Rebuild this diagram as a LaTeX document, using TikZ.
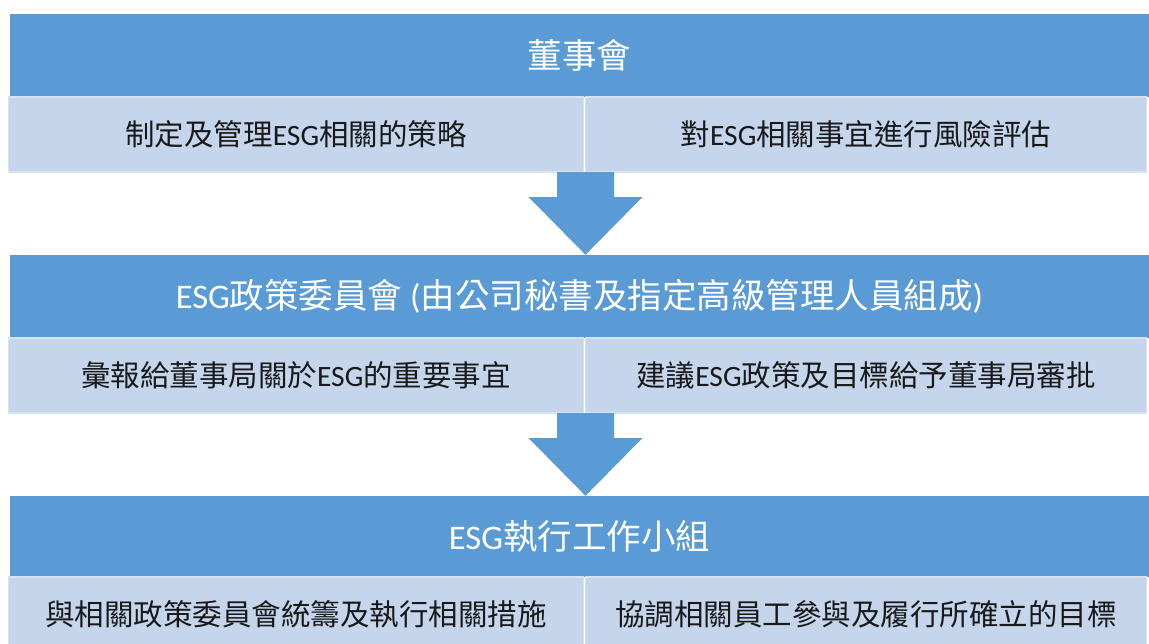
\documentclass[tikz,border=0pt]{standalone}
\usepackage{fontspec}
\setmainfont{Noto Sans CJK TC}
\newfontfamily\lat{Carlito}
\usetikzlibrary{calc,positioning}
\definecolor{headblue}{HTML}{5B9BD5}
\definecolor{bandblue}{HTML}{C5D6EC}
\definecolor{bandedge}{HTML}{D6E2F2}
\newcommand{\esg}{{\lat ESG}}
\tikzset{
  header/.style={fill=headblue, text=white, inner sep=0pt, minimum width=1139pt, font=\fontsize{34.5}{38}\selectfont},
  band/.style={fill=bandblue, draw=bandedge, line width=1.5pt, text=black!90, inner sep=0pt, minimum height=75pt, font=\fontsize{29.5}{33}\selectfont},
  blockarrow/.style={fill=headblue}
}
\begin{document}
\begin{tikzpicture}[x=1pt,y=-1pt]
\useasboundingbox (0,0) rectangle (1149,643);
\clip (0,0) rectangle (1149,643);
% board
\node[header, minimum height=83pt] (board) at (579.5,55.5) {董事會};
\node[band, minimum width=575pt] (boardl) at (296,134.5) {制定及管理\esg 相關的策略};
\node[band, minimum width=561pt] (boardr) at (866,134.5) {對\esg 相關事宜進行風險評估};
% policy committee
\node[header, minimum height=83pt] (policy) at (579.5,296.5) {\esg 政策委員會 {\lat (}由公司秘書及指定高級管理人員組成{\lat )}};
\node[band, minimum width=575pt] (policyl) at (296,375.5) {彙報給董事局關於\esg 的重要事宜};
\node[band, minimum width=561pt] (policyr) at (866,375.5) {建議\esg 政策及目標給予董事局審批};
% working group
\node[header, minimum height=81pt] (group) at (579.5,536.5) {\esg 執行工作小組};
\node[band, minimum width=575pt] (groupl) at (296,614.5) {與相關政策委員會統籌及執行相關措施};
\node[band, minimum width=561pt] (groupr) at (866,614.5) {協調相關員工參與及履行所確立的目標};
% arrows
\coordinate (a1) at (585.5,172);
\coordinate (a2) at (585.5,413);
\fill[blockarrow] ($(a1)+(-28.5,0)$) -- ($(a1)+(28.5,0)$) -- ($(a1)+(28.5,25)$) -- ($(a1)+(57,25)$)
  -- (a1 |- policy.north) -- ($(a1)+(-57,25)$) -- ($(a1)+(-28.5,25)$) -- cycle;
\fill[blockarrow] ($(a2)+(-28.5,0)$) -- ($(a2)+(28.5,0)$) -- ($(a2)+(28.5,25)$) -- ($(a2)+(57,25)$)
  -- (a2 |- group.north) -- ($(a2)+(-57,25)$) -- ($(a2)+(-28.5,25)$) -- cycle;
\end{tikzpicture}
\end{document}
